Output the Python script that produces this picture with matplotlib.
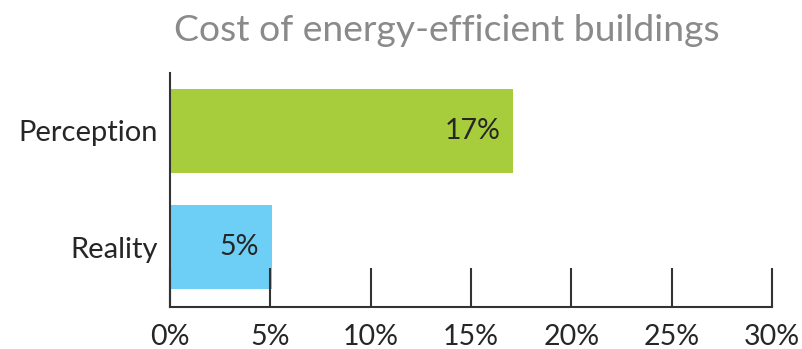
import matplotlib
matplotlib.use("Agg")
import matplotlib.pyplot as plt

categories = ["Reality", "Perception"]
values = [5.1, 17.1]
value_labels = ["5%", "17%"]
bar_colors = ["#6dcff6", "#a8cd3c"]
x_ticks = [0, 5, 10, 15, 20, 25, 30]
x_tick_labels = ["0%", "5%", "10%", "15%", "20%", "25%", "30%"]
title = "Cost of energy-efficient buildings"

plt.rcParams['font.family'] = ['Lato', 'DejaVu Sans']
text_color = "#262626"

fig = plt.figure(figsize=(8.02, 3.49), dpi=100)
ax = fig.add_axes([0.212, 0.1203, 0.7506, 0.6707])

ypos = list(range(len(categories)))
ax.barh(ypos, values, height=0.724, color=bar_colors)

for y, v, lab in zip(ypos, values, value_labels):
    ax.text(v - 0.65, y, lab, ha="right", va="center", fontsize=20.5, color=text_color)

ax.set_xlim(0, 30)
ax.set_ylim(-0.517, 1.5)
ax.set_yticks(ypos)
ax.set_yticklabels(categories, fontsize=21, color=text_color)
ax.set_xticks(x_ticks)
ax.set_xticklabels(x_tick_labels, fontsize=20.5, color=text_color)

ax.tick_params(axis="y", length=0, pad=9)
ax.tick_params(axis="x", direction="in", length=28, width=1.5, color="#333333", pad=12)

for side in ["top", "right"]:
    ax.spines[side].set_visible(False)
for side in ["left", "bottom"]:
    ax.spines[side].set_linewidth(1.5)
    ax.spines[side].set_color("#333333")

fig.text(0.557, 0.912, title, ha="center", va="center", fontsize=26.8, color="#8a8a8a")

fig.savefig("out.png", dpi=100)
